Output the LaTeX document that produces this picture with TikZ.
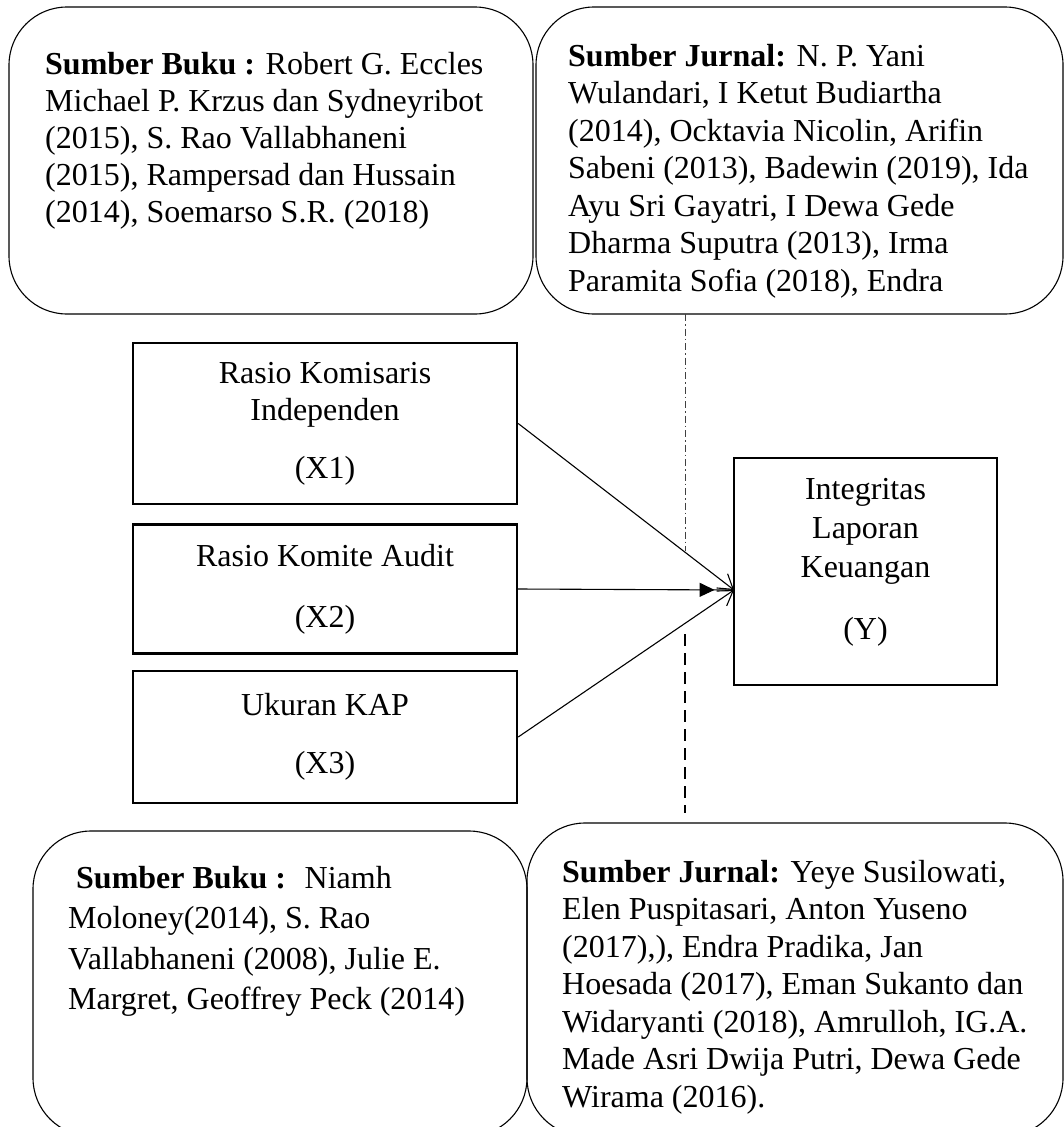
\documentclass[tikz,border=0pt]{standalone}
\usepackage{fontspec}
\setmainfont{Liberation Serif}
\usetikzlibrary{arrows.meta,decorations.markings}

\tikzset{
  source/.style={draw,line width=1.1pt,rounded corners=58pt},
  srctext/.style={anchor=north west,inner sep=0pt,align=left},
  var/.style={draw,line width=2.4pt,inner sep=0pt,align=center,
    font=\fontsize{32}{37}\selectfont},
  link/.style={line width=1.1pt,-{Straight Barb[length=14pt,width=18pt]}},
}

\begin{document}
\begin{tikzpicture}[x=1pt,y=-1pt]
  \useasboundingbox (0,0) rectangle (1064,1127);

  % sources
  \draw[source] (9,7) rectangle (533,314);
  \draw[source] (536,7) rectangle (1063,314);
  \draw[source] (33,831) rectangle (527,1136);
  \draw[source] (527,823) rectangle (1063,1136);

  \node[srctext,font=\fontsize{32}{37}\selectfont] (bukua) at (45,52)
    {\textbf{Sumber Buku :} Robert G. Eccles\\
     Michael P. Krzus dan Sydneyribot\\
     (2015), S. Rao Vallabhaneni\\
     (2015), Rampersad dan Hussain\\
     (2014), Soemarso S.R. (2018)};
  \node[srctext,font=\fontsize{32}{37.5}\selectfont] (jurnala) at (568,44)
    {\textbf{Sumber Jurnal:} N. P. Yani\\
     Wulandari, I Ketut Budiartha\\
     (2014), Ocktavia Nicolin, Arifin\\
     Sabeni (2013), Badewin (2019), Ida\\
     Ayu Sri Gayatri, I Dewa Gede\\
     Dharma Suputra (2013), Irma\\
     Paramita Sofia (2018), Endra};
  \node[srctext,font=\fontsize{32}{40.5}\selectfont] (bukub) at (68,866)
    {\hspace{8pt}\textbf{Sumber Buku :}\hspace{8pt} Niamh\\
     Moloney(2014), S. Rao\\
     Vallabhaneni (2008), Julie E.\\
     Margret, Geoffrey Peck (2014)};
  \node[srctext,font=\fontsize{32}{37.5}\selectfont] (jurnalb) at (562,860)
    {\textbf{Sumber Jurnal:} Yeye Susilowati,\\
     Elen Puspitasari, Anton Yuseno\\
     (2017),), Endra Pradika, Jan\\
     Hoesada (2017), Eman Sukanto dan\\
     Widaryanti (2018), Amrulloh, IG.A.\\
     Made Asri Dwija Putri, Dewa Gede\\
     Wirama (2016).};

  % variables
  \node[var,minimum width=384pt,minimum height=161pt] (x1) at (325,423.5)
    {Rasio Komisaris\\Independen\\[21pt](X1)};
  \node[var,minimum width=384pt,minimum height=129pt] (x2) at (325,589)
    {Rasio Komite Audit\\[24pt](X2)};
  \node[var,minimum width=384pt,minimum height=132pt] (x3) at (325,737)
    {Ukuran KAP\\[21pt](X3)};
  \node[var,font=\fontsize{32}{39}\selectfont,minimum width=263pt,
    minimum height=227pt] (y) at (865.5,571.5)
    {Integritas\\Laporan\\Keuangan\\[23pt](Y)\\[-14pt]\mbox{}};

  \coordinate (tip) at (734,590);
  \coordinate (dda) at (685,314);
  \coordinate (ddb) at (685,551);
  \coordinate (dsa) at (685,634);
  \coordinate (dsb) at (685,813);

  \draw[line width=1pt,black!75,dash pattern=on 7pt off 3pt on 1.5pt off 3pt] (dda) -- (ddb);
  \draw[line width=2.6pt,dash pattern=on 12pt off 7pt] (dsa) -- (dsb);

  \draw[link] (x1.east) -- (tip);
  \draw[link] (x3.east) -- (tip);
  \draw[line width=1.1pt,postaction=decorate,decoration={markings,
    mark=at position 0.91 with {\arrow{Triangle[length=15pt,width=14pt]}}}]
    (x2.east) -- (tip);
\end{tikzpicture}
\end{document}
